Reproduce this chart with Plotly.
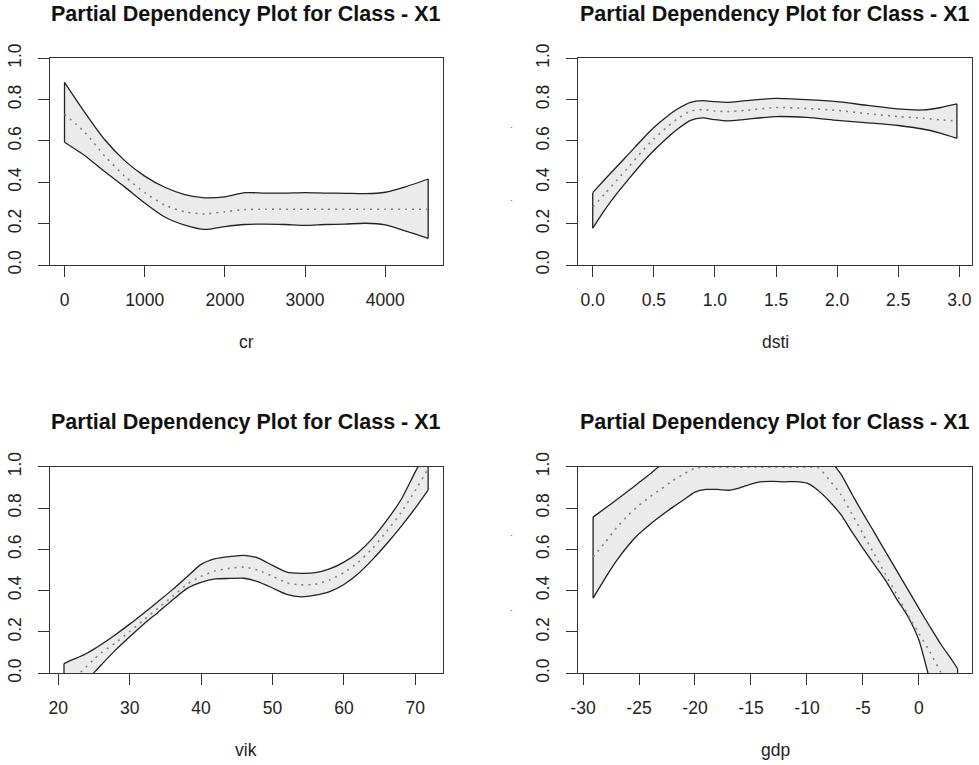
import plotly.graph_objects as go

# ---------------- data ----------------
cr_x = [0, 250, 500, 750, 1000, 1250, 1500, 1750, 2000, 2250, 2500, 2750, 3000,
        3250, 3500, 3750, 4000, 4250, 4535]
cr_upper = [0.884, 0.740, 0.607, 0.505, 0.430, 0.376, 0.341, 0.325, 0.330, 0.350,
            0.348, 0.348, 0.350, 0.348, 0.347, 0.345, 0.352, 0.378, 0.416]
cr_lower = [0.594, 0.530, 0.452, 0.378, 0.300, 0.232, 0.193, 0.172, 0.186, 0.196,
            0.198, 0.196, 0.192, 0.196, 0.198, 0.202, 0.194, 0.165, 0.129]
cr_mean = [0.730, 0.643, 0.528, 0.430, 0.350, 0.290, 0.257, 0.247, 0.258, 0.268,
           0.270, 0.270, 0.270, 0.270, 0.270, 0.270, 0.270, 0.270, 0.270]

dsti_x = [0, 0.1, 0.2, 0.3, 0.4, 0.5, 0.6, 0.7, 0.8, 0.9, 1.0, 1.1, 1.25, 1.5,
          1.75, 2.0, 2.25, 2.5, 2.7, 2.85, 2.98]
dsti_upper = [0.350, 0.415, 0.478, 0.541, 0.605, 0.665, 0.715, 0.757, 0.787, 0.795,
              0.790, 0.787, 0.795, 0.806, 0.800, 0.790, 0.772, 0.755, 0.750, 0.762, 0.779]
dsti_lower = [0.178, 0.268, 0.348, 0.420, 0.490, 0.554, 0.610, 0.660, 0.700, 0.712,
              0.703, 0.697, 0.705, 0.718, 0.714, 0.700, 0.688, 0.675, 0.658, 0.637, 0.613]
dsti_mean = [0.280, 0.345, 0.412, 0.478, 0.548, 0.610, 0.663, 0.710, 0.745, 0.752,
             0.745, 0.742, 0.748, 0.762, 0.757, 0.748, 0.732, 0.718, 0.710, 0.702, 0.697]

vik_x = [20.8, 22, 23, 24, 25, 26, 28, 30, 32, 34, 36, 38, 40, 42, 44, 46, 48, 50,
         52, 54, 56, 58, 60, 62, 64, 66, 68, 70, 71.8]
vik_upper = [0.047, 0.066, 0.080, 0.097, 0.117, 0.139, 0.187, 0.238, 0.292, 0.348,
             0.405, 0.466, 0.527, 0.555, 0.565, 0.571, 0.558, 0.522, 0.490, 0.484,
             0.487, 0.505, 0.538, 0.585, 0.653, 0.740, 0.840, 0.975, 1.09]
vik_lower = [-0.150, -0.110, -0.070, -0.035, 0.003, 0.040, 0.112, 0.177, 0.239, 0.296,
             0.355, 0.410, 0.440, 0.457, 0.459, 0.460, 0.443, 0.413, 0.382, 0.370,
             0.378, 0.395, 0.430, 0.482, 0.550, 0.627, 0.710, 0.800, 0.887]
vik_mean = [-0.055, -0.030, 0.000, 0.035, 0.068, 0.099, 0.147, 0.202, 0.259, 0.316,
            0.372, 0.430, 0.469, 0.496, 0.508, 0.514, 0.499, 0.470, 0.438, 0.428,
            0.431, 0.452, 0.487, 0.537, 0.605, 0.687, 0.778, 0.885, 0.990]

gdp_x = [-29.1, -28, -27, -26, -25, -24, -23, -22, -21, -20, -19, -18, -17, -16, -15,
         -14, -13, -12, -11, -10, -9, -8, -7, -6, -5, -4, -3, -2, -1, 0, 1, 2, 3, 3.45]
gdp_upper = [0.756, 0.800, 0.840, 0.881, 0.923, 0.966, 1.010, 1.040, 1.060, 1.075,
             1.080, 1.085, 1.088, 1.090, 1.090, 1.090, 1.090, 1.090, 1.090, 1.080,
             1.060, 1.030, 0.966, 0.869, 0.774, 0.683, 0.590, 0.498, 0.406, 0.314,
             0.224, 0.137, 0.060, 0.022]
gdp_lower = [0.364, 0.462, 0.545, 0.616, 0.675, 0.722, 0.764, 0.803, 0.840, 0.877,
             0.890, 0.890, 0.886, 0.898, 0.916, 0.928, 0.929, 0.927, 0.928, 0.920,
             0.885, 0.833, 0.770, 0.686, 0.605, 0.527, 0.451, 0.360, 0.276, 0.160,
             -0.040, -0.240, -0.430, -0.520]
gdp_mean = [0.563, 0.635, 0.705, 0.763, 0.813, 0.855, 0.893, 0.932, 0.965, 0.993,
            0.997, 0.998, 0.998, 0.998, 0.998, 0.998, 0.998, 0.998, 0.998, 0.998,
            0.995, 0.935, 0.868, 0.773, 0.675, 0.578, 0.480, 0.383, 0.285, 0.193,
            0.101, 0.000, -0.095, -0.130]

cr_ticks = [0, 1000, 2000, 3000, 4000]
cr_ticktext = ["0", "1000", "2000", "3000", "4000"]
dsti_ticks = [0, 0.5, 1.0, 1.5, 2.0, 2.5, 3.0]
dsti_ticktext = ["0.0", "0.5", "1.0", "1.5", "2.0", "2.5", "3.0"]
vik_ticks = [20, 30, 40, 50, 60, 70]
vik_ticktext = ["20", "30", "40", "50", "60", "70"]
gdp_ticks = [-30, -25, -20, -15, -10, -5, 0]
gdp_ticktext = ["-30", "-25", "-20", "-15", "-10", "-5", "0"]
y_ticks = [0.0, 0.2, 0.4, 0.6, 0.8, 1.0]
y_ticktext = ["0.0", "0.2", "0.4", "0.6", "0.8", "1.0"]

title_text = "Partial Dependency Plot for Class - X1"

# ---------------- layout geometry ----------------
W, H = 979, 765
FONT = "Liberation Sans, Arial, Helvetica, sans-serif"

panels = [
    dict(x=cr_x, up=cr_upper, lo=cr_lower, mean=cr_mean, label="cr",
         tv=cr_ticks, tt=cr_ticktext, xr=[-181, 4716], px=(50, 442.7), py=(58.3, 265)),
    dict(x=dsti_x, up=dsti_upper, lo=dsti_lower, mean=dsti_mean, label="dsti",
         tv=dsti_ticks, tt=dsti_ticktext, xr=[-0.118, 3.101], px=(578.3, 971.7), py=(58.3, 265)),
    dict(x=vik_x, up=vik_upper, lo=vik_lower, mean=vik_mean, label="vik",
         tv=vik_ticks, tt=vik_ticktext, xr=[18.84, 73.84], px=(50, 442.7), py=(466.7, 673.3)),
    dict(x=gdp_x, up=gdp_upper, lo=gdp_lower, mean=gdp_mean, label="gdp",
         tv=gdp_ticks, tt=gdp_ticktext, xr=[-30.42, 4.71], px=(578.3, 971.7), py=(466.7, 673.3)),
]

LINE = dict(color="#222222", width=1.3)

fig = go.Figure()
annotations = []
layout_axes = {}

for i, p in enumerate(panels):
    k = "" if i == 0 else str(i + 1)
    xa, ya = "x" + k, "y" + k
    # lower bound line
    fig.add_trace(go.Scatter(
        x=p["x"], y=p["lo"], mode="lines",
        line=dict(LINE, shape="spline", smoothing=0.6),
        xaxis=xa, yaxis=ya, showlegend=False, hoverinfo="skip"))
    # upper bound line, band filled down to the lower bound
    fig.add_trace(go.Scatter(
        x=p["x"], y=p["up"], mode="lines", fill="tonexty", fillcolor="#ebebeb",
        line=dict(LINE, shape="spline", smoothing=0.6),
        xaxis=xa, yaxis=ya, showlegend=False, hoverinfo="skip"))
    # closing edges of the band at both ends
    for j in (0, -1):
        fig.add_trace(go.Scatter(
            x=[p["x"][j], p["x"][j]], y=[p["up"][j], p["lo"][j]], mode="lines",
            line=LINE, xaxis=xa, yaxis=ya, showlegend=False, hoverinfo="skip"))
    # mean (dotted)
    fig.add_trace(go.Scatter(
        x=p["x"], y=p["mean"], mode="lines",
        line=dict(color="#808080", width=1.6, dash="2px,5px", shape="spline", smoothing=0.6),
        xaxis=xa, yaxis=ya, showlegend=False, hoverinfo="skip"))

    x0, x1 = p["px"]
    ytop, ybot = p["py"]
    axis_common = dict(
        showgrid=False, zeroline=False, showline=True, mirror=True, automargin=False,
        linecolor="#333333", linewidth=1, ticks="outside", ticklen=11,
        tickcolor="#333333", tickwidth=1,
        tickfont=dict(family=FONT, size=17.5, color="#222222"),
    )
    layout_axes["xaxis" + k] = dict(
        axis_common, domain=[x0 / W, x1 / W], range=p["xr"], anchor=ya,
        tickmode="array", tickvals=p["tv"], ticktext=p["tt"], ticklabelstandoff=8)
    layout_axes["yaxis" + k] = dict(
        axis_common, domain=[1 - ybot / H, 1 - ytop / H], range=[0, 1], anchor=xa,
        tickmode="array", tickvals=y_ticks, ticktext=y_ticktext, tickangle=-90,
        ticklabelstandoff=10)

    cx = (x0 + x1) / 2 / W
    annotations.append(dict(
        text="<b>" + title_text + "</b>", x=cx, y=1 - (ytop - 44.5) / H,
        xref="paper", yref="paper", xanchor="center", yanchor="middle",
        showarrow=False, font=dict(family=FONT, size=21.5, color="#111111")))
    annotations.append(dict(
        text=p["label"], x=cx, y=1 - (ybot + 77) / H,
        xref="paper", yref="paper", xanchor="center", yanchor="middle",
        showarrow=False, font=dict(family=FONT, size=17.5, color="#222222")))

# small stray marks left of the right-hand panels
for yy in (127, 200, 535, 610):
    annotations.append(dict(
        text="·", x=511.7 / W, y=1 - yy / H, xref="paper", yref="paper",
        xanchor="center", yanchor="middle", showarrow=False,
        font=dict(family=FONT, size=9, color="#555555")))

fig.update_layout(
    width=W, height=H, margin=dict(l=0, r=0, t=0, b=0, autoexpand=False),
    paper_bgcolor="white", plot_bgcolor="white",
    font=dict(family=FONT), showlegend=False,
    annotations=annotations, **layout_axes)

fig.write_html("out.html")
